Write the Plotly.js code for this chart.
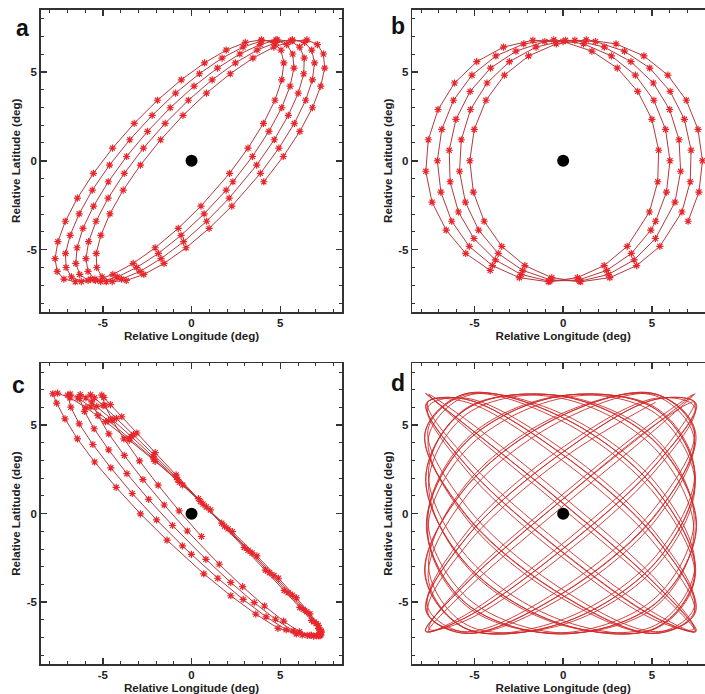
<!DOCTYPE html>
<html>
<head>
<meta charset="utf-8">
<script src="https://cdn.plot.ly/plotly-3.0.1.min.js"></script>
<style>
html,body{margin:0;padding:0;overflow:hidden;background:#fff;}
#chart{width:715px;height:694px;}
</style>
</head>
<body>
<div id="chart"></div>
<script>
// ---------- data (deg), read/ ----------
const panelLetters = ['a','b','c','d'];
const tickValues = [-5, 0, 5];
const tickLabels = ['-5', '0', '5'];
const centerLon = [0];
const centerLat = [0];

// panel a
const aLon = [4.07,5.17,6.10,6.81,7.28,7.50,7.43,7.09,6.50,5.67,4.64,3.46,2.18,0.84,-0.48,-1.74,-2.88,-3.85,-4.60,-5.11,-5.37,-5.34,-5.04,-4.47,-3.68,-2.69,-1.55,-0.31,0.99,2.27,
3.88,4.92,5.79,6.43,6.81,6.93,6.77,6.36,5.68,4.77,3.69,2.47,1.16,-0.18,-1.49,-2.71,-3.79,-4.70,-5.38,-5.80,-5.95,-5.83,-5.45,-4.81,-3.94,-2.90,-1.72,-0.45,0.85,2.12,
3.67,4.66,5.45,6.01,6.32,6.35,6.09,5.58,4.83,3.86,2.72,1.46,0.14,-1.20,-2.48,-3.66,-4.69,-5.52,-6.12,-6.45,-6.52,-6.30,-5.83,-5.12,-4.19,-3.09,-1.87,-0.59,0.71,1.95,
2.33,3.43,4.36,5.08,5.55,5.77,5.70,5.36,4.76,3.93,2.90,1.72,0.44,-0.90,-2.22,-3.48,-4.62,-5.59,-6.33,-6.84,-7.10,-7.07,-6.77,-6.21,-5.42,-4.43,-3.29,-2.05,-0.75,0.53,
2.14,3.18,4.05,4.70,5.08,5.20,5.04,4.62,3.94,3.03,1.95,0.73,-0.58,-1.92,-3.23,-4.45,-5.53,-6.43,-7.11,-7.53,-7.69,-7.57,-7.19,-6.55,-5.68];
const aLat = [-1.18,0.24,1.65,2.98,4.19,5.21,6.00,6.53,6.79,6.73,6.39,5.77,4.89,3.80,2.55,1.18,-0.24,-1.65,-2.98,-4.19,-5.21,-6.00,-6.53,-6.79,-6.73,-6.39,-5.77,-4.89,-3.80,-2.55,
-0.71,0.71,2.10,3.40,4.55,5.50,6.22,6.65,6.80,6.65,6.22,5.50,4.55,3.40,2.10,0.71,-0.71,-2.10,-3.40,-4.55,-5.50,-6.22,-6.65,-6.80,-6.65,-6.22,-5.50,-4.55,-3.40,-2.10,
-0.24,1.18,2.55,3.80,4.89,5.77,6.39,6.73,6.79,6.53,6.00,5.21,4.19,2.98,1.65,0.24,-1.18,-2.55,-3.80,-4.89,-5.77,-6.39,-6.73,-6.79,-6.53,-6.00,-5.21,-4.19,-2.98,-1.65,
-1.18,0.24,1.65,2.98,4.19,5.21,6.00,6.53,6.79,6.73,6.39,5.77,4.89,3.80,2.55,1.18,-0.24,-1.65,-2.98,-4.19,-5.21,-6.00,-6.53,-6.79,-6.73,-6.39,-5.77,-4.89,-3.80,-2.55,
-0.71,0.71,2.10,3.40,4.55,5.50,6.22,6.65,6.80,6.65,6.22,5.50,4.55,3.40,2.10,0.71,-0.71,-2.10,-3.40,-4.55,-5.50,-6.22,-6.65,-6.80,-6.65];

// panel b
const bLon = [7.04,7.65,7.85,7.60,6.94,5.90,4.55,2.98,1.30,-0.39,-1.95,-3.31,-4.35,-5.01,-5.26,-5.06,-4.45,-3.46,-2.16,-0.64,0.99,2.63,4.14,5.45,
6.69,7.16,7.21,6.83,6.03,4.88,3.45,1.82,0.13,-1.53,-3.03,-4.29,-5.22,-5.74,-5.84,-5.51,-4.76,-3.66,-2.28,-0.70,0.94,2.55,4.00,5.20,
6.30,6.62,6.53,6.00,5.08,3.82,2.32,0.66,-1.03,-2.66,-4.09,-5.24,-6.04,-6.42,-6.37,-5.90,-5.03,-3.82,-2.37,-0.76,0.88,2.46,3.84,4.94,
5.21,5.82,6.02,5.77,5.11,4.07,2.72,1.15,-0.53,-2.22,-3.79,-5.14,-6.18,-6.84,-7.09,-6.89,-6.28,-5.29,-3.99,-2.47,-0.84,0.80,2.31,3.61,
4.86,5.33,5.38,5.00,4.20,3.05,1.62,-0.01,-1.71,-3.36,-4.87,-6.12,-7.05,-7.60,-7.74,-7.39,-6.59,-5.49,-4.11];
const bLat = [-3.40,-1.76,0,1.76,3.40,4.81,5.89,6.57,6.80,6.57,5.89,4.81,3.40,1.76,0,-1.76,-3.40,-4.81,-5.89,-6.57,-6.80,-6.57,-5.89,-4.81,
-2.88,-1.18,0.59,2.33,3.90,5.21,6.16,6.70,6.77,6.39,5.57,4.37,2.88,1.18,-0.59,-2.33,-3.90,-5.21,-6.16,-6.70,-6.77,-6.39,-5.57,-4.37,
-2.33,-0.59,1.18,2.88,4.37,5.57,6.39,6.77,6.70,6.16,5.21,3.90,2.33,0.59,-1.18,-2.88,-4.37,-5.57,-6.39,-6.77,-6.70,-6.16,-5.21,-3.90,
-3.40,-1.76,0,1.76,3.40,4.81,5.89,6.57,6.80,6.57,5.89,4.81,3.40,1.76,0,-1.76,-3.40,-4.81,-5.89,-6.57,-6.80,-6.57,-5.89,-4.81,
-2.88,-1.18,0.59,2.33,3.90,5.21,6.16,6.70,6.77,6.39,5.57,4.37,2.88,1.18,-0.59,-2.33,-3.90,-5.21,-6.16];

// panel c
const cLon = [0.56,-0.70,-1.88,-2.93,-3.81,-4.47,-4.88,-5.06,-4.94,-4.57,-3.93,-3.08,-2.05,-0.87,0.39,1.70,2.97,4.16,5.22,6.10,6.76,7.16,7.30,7.16,6.75,6.08,5.19,4.11,2.88,1.56,
-0.24,-1.54,-2.74,-3.79,-4.66,-5.27,-5.62,-5.69,-5.47,-4.98,-4.23,-3.27,-2.12,-0.85,0.50,1.86,3.18,4.39,5.44,6.29,6.90,7.23,7.29,7.04,6.52,5.73,4.73,3.53,2.21,0.81,
-1.07,-2.42,-3.64,-4.67,-5.49,-6.03,-6.31,-6.27,-5.95,-5.34,-4.48,-3.39,-2.15,-0.78,0.65,2.06,3.41,4.64,5.68,6.49,7.03,7.29,7.23,6.88,6.24,5.33,4.20,2.91,1.48,-0.01,
-0.51,-1.97,-3.34,-4.55,-5.56,-6.33,-6.80,-6.98,-6.84,-6.40,-5.67,-4.68,-3.50,-2.14,-0.68,0.83,2.30,3.68,4.90,5.91,6.67,7.14,7.30,7.14,6.67,5.90,4.87,3.62,2.21,0.69,
-1.38,-2.88,-4.25,-5.46,-6.43,-7.13,-7.60,-7.82,-7.55,-6.85,-5.95,-4.84,-3.51,-2.05,-0.50,1.06];
const cLat = [-1.29,0.16,1.61,2.98,4.23,5.29,6.13,6.70,6.57,6.16,5.48,4.56,3.45,2.19,0.85,-0.54,-1.91,-3.19,-4.34,-5.30,-6.03,-6.50,-6.70,-6.90,-6.88,-6.68,-6.08,-5.22,-4.13,-2.86,
-0.98,0.49,1.93,3.29,4.51,5.54,6.32,6.72,6.55,6.11,5.39,4.47,3.33,2.06,0.69,-0.71,-2.07,-3.34,-4.47,-5.41,-6.12,-6.56,-6.85,-6.90,-6.88,-6.63,-5.97,-5.03,-3.89,-2.58,
-0.67,0.81,2.26,3.61,4.80,5.78,6.52,6.73,6.54,6.06,5.33,4.36,3.21,1.92,0.54,-0.86,-2.22,-3.50,-4.61,-5.54,-6.21,-6.63,-6.90,-6.92,-6.86,-6.56,-5.83,-4.85,-3.65,-2.30,
-1.82,-0.35,1.14,2.59,3.91,5.08,6.02,6.70,6.76,6.54,6.03,5.26,4.27,3.09,1.77,0.38,-1.02,-2.39,-3.65,-4.76,-5.66,-6.31,-6.70,-6.90,-6.88,-6.80,-6.48,-5.68,-4.64,-3.40,
-1.50,-0.01,1.49,2.92,4.23,5.36,6.25,6.78,6.81,6.55,6.00,5.20,4.16,2.96,1.62,0.21];

// panel d
const dLon = [
7.45,5.22,-0.15,-5.52,-7.75,-5.52,-0.15,5.22, 7.50,5.25,-0.12,-5.50,-7.70,-5.48,-0.10,5.28,
7.40,5.18,-0.18,-5.55,-7.80,-5.56,-0.16,5.20, 7.45,5.24,-0.14,-5.50,-7.68,-5.50,-0.14,5.22,
7.52,5.26,-0.10,-5.48,-7.74,-5.54,-0.18,5.18, 7.42,5.20,-0.16,-5.54,-7.78,-5.52,-0.12,5.24,
7.48,5.23,-0.13,-5.51,-7.72,-5.50,-0.15,5.21, 7.44,5.21,-0.17,-5.53,-7.76,-5.55,-0.14,5.23,
7.50,5.27,-0.11,-5.49,-7.70,-5.49,-0.11,5.26, 7.41,5.19,-0.16,-5.56,-7.79,-5.53,-0.17,5.19,
7.46,5.22,-0.14,-5.52,-7.74,-5.51,-0.13,5.22, 7.49,5.25,-0.12,-5.50,-7.71,-5.52,-0.15,5.24,
7.43,5.20,-0.17,-5.54,-7.77,-5.54,-0.16,5.20, 7.47,5.24,-0.13,-5.51,-7.73,-5.50,-0.12,5.23,
7.45,5.22,-0.15,-5.52,-7.75,-5.53,-0.14,5.21,
7.40,5.20,-0.10,-5.40,-7.60,-5.40,-0.10,5.20, 7.36,5.16,-0.06,-5.38,-7.56,-5.42,-0.12,5.18,
7.42,5.22,-0.12,-5.44,-7.64,-5.38,-0.08,5.22, 7.38,5.18,-0.08,-5.40,-7.58,-5.41,-0.11,5.19,
7.43,5.21,-0.11,-5.42,-7.62,-5.39,-0.09,5.21, 7.37,5.17,-0.09,-5.39,-7.59,-5.43,-0.13,5.17,
7.41,5.20,-0.10,-5.41,-7.61,-5.40,-0.10,5.20, 7.39,5.19,-0.12,-5.43,-7.63,-5.41,-0.09,5.21,
7.44,5.23,-0.09,-5.39,-7.57,-5.38,-0.11,5.19, 7.36,5.17,-0.11,-5.42,-7.62,-5.42,-0.10,5.18,
7.40,5.20,-0.10,-5.40,-7.60,-5.40,-0.10,5.20, 7.42,5.21,-0.08,-5.38,-7.58,-5.39,-0.12,5.22,
7.38,5.18,-0.12,-5.42,-7.63,-5.41,-0.09,5.19, 7.41,5.20,-0.10,-5.41,-7.60,-5.40,-0.11,5.20,
7.39,5.19,-0.11,-5.40,-7.61,-5.42,-0.10,5.21];
const dLat = [
6.80,5.05,0.71,-4.00,-6.65,-5.89,-2.10,2.77,6.22,6.47,3.40,-1.41,-5.50,-6.77,-4.55,0,4.55,6.77,5.50,1.41,
-3.40,-6.47,-6.22,-2.77,2.10,5.89,6.65,4.00,-0.71,-5.05,-6.80,-5.05,-0.71,4.00,6.65,5.89,2.10,-2.77,-6.22,-6.47,
-3.40,1.41,5.50,6.77,4.55,0,-4.55,-6.77,-5.50,-1.41,3.40,6.47,6.22,2.77,-2.10,-5.89,-6.65,-4.00,0.71,5.05,
6.80,5.05,0.71,-4.00,-6.65,-5.89,-2.10,2.77,6.22,6.47,3.40,-1.41,-5.50,-6.77,-4.55,0,4.55,6.77,5.50,1.41,
-3.40,-6.47,-6.22,-2.77,2.10,5.89,6.65,4.00,-0.71,-5.05,-6.80,-5.05,-0.71,4.00,6.65,5.89,2.10,-2.77,-6.22,-6.47,
-3.40,1.41,5.50,6.77,4.55,0,-4.55,-6.77,-5.50,-1.41,3.40,6.47,6.22,2.77,-2.10,-5.89,-6.65,-4.00,0.71,5.05,
6.30,3.06,-1.75,-5.66,-6.67,-4.25,0.35,4.77,6.74,5.25,1.06,-3.68,-6.52,-6.01,-2.42,2.42,6.01,6.52,3.68,-1.06,
-5.25,-6.74,-4.77,-0.35,4.25,6.67,5.66,1.75,-3.06,-6.30,-6.30,-3.06,1.75,5.66,6.67,4.25,-0.35,-4.77,-6.74,-5.25,
-1.06,3.68,6.52,6.01,2.42,-2.42,-6.01,-6.52,-3.68,1.06,5.25,6.74,4.77,0.35,-4.25,-6.67,-5.66,-1.75,3.06,6.30,
6.30,3.06,-1.75,-5.66,-6.67,-4.25,0.35,4.77,6.74,5.25,1.06,-3.68,-6.52,-6.01,-2.42,2.42,6.01,6.52,3.68,-1.06,
-5.25,-6.74,-4.77,-0.35,4.25,6.67,5.66,1.75,-3.06,-6.30,-6.30,-3.06,1.75,5.66,6.67,4.25,-0.35,-4.77,-6.74,-5.25,
-1.06,3.68,6.52,6.01,2.42,-2.42,-6.01,-6.52,-3.68,1.06,5.25,6.74,4.77,0.35,-4.25,-6.67,-5.66,-1.75,3.06,6.30];

// ---------- styling ----------
const FONT = 'Liberation Sans, Arial, Helvetica, sans-serif';
const AXC = '#333333';
const lineRed = '#b3393c';
const markRed = '#e8262b';
const dRed = '#d02a2a';

function orbit(x, y, xa, ya) {
  return {x: x, y: y, xaxis: xa, yaxis: ya, type: 'scatter', mode: 'lines+markers',
    line: {color: lineRed, width: 1},
    marker: {symbol: 'asterisk-open', size: 6, color: markRed, line: {color: markRed, width: 1.2}},
    hoverinfo: 'skip'};
}
function center(xa, ya) {
  return {x: centerLon, y: centerLat, xaxis: xa, yaxis: ya, type: 'scatter', mode: 'markers',
    marker: {size: 12, color: '#000000'}, hoverinfo: 'skip'};
}

const traces = [
  orbit(aLon, aLat, 'x', 'y'), center('x', 'y'),
  orbit(bLon, bLat, 'x2', 'y2'), center('x2', 'y2'),
  orbit(cLon, cLat, 'x3', 'y3'), center('x3', 'y3'),
  {x: dLon, y: dLat, xaxis: 'x4', yaxis: 'y4', type: 'scatter', mode: 'lines',
   line: {color: dRed, width: 0.9, shape: 'spline', smoothing: 1}, hoverinfo: 'skip'},
  center('x4', 'y4')
];

function axis(domain, anchor, title) {
  return {
    domain: domain, anchor: anchor, range: [-8.5, 8.5],
    tickmode: 'array', tickvals: tickValues, ticktext: tickLabels,
    ticks: 'inside', ticklen: 6, tickwidth: 1.5, tickcolor: AXC,
    minor: {tickmode: 'linear', tick0: 0, dtick: 1, ticks: 'inside', ticklen: 3, tickwidth: 1, tickcolor: AXC, showgrid: false},
    showline: true, linecolor: AXC, linewidth: 1.5, mirror: 'allticks',
    showgrid: false, zeroline: false, automargin: false, fixedrange: true,
    tickfont: {family: FONT, size: 11.5, color: '#222222', weight: 'bold'},
    title: {text: title, font: {family: FONT, size: 11.6, color: '#222222', weight: 'bold'}, standoff: 3}
  };
}

const XT = 'Relative Longitude (deg)';
const YT = 'Relative Latitude (deg)';
const leftDom = [0.001, 0.4487];
const rightDom = [0.5524, 1.0];
const topDom = [0.5381, 0.9992];
const botDom = [0.0015, 0.4599];

const letterFont = {family: FONT, size: 23, color: '#111111', weight: 'bold'};
const letterPos = [[-0.0267, 0.971], [0.5312, 0.9741], [-0.0326, 0.4268], [0.5312, 0.4299]];

const layout = {
  width: 715, height: 694,
  margin: {l: 40, r: 1, t: 9, b: 29, pad: 0},
  paper_bgcolor: '#ffffff', plot_bgcolor: '#ffffff',
  showlegend: false,
  xaxis: axis(leftDom, 'y', XT), yaxis: axis(topDom, 'x', YT),
  xaxis2: axis(rightDom, 'y2', XT), yaxis2: axis(topDom, 'x2', YT),
  xaxis3: axis(leftDom, 'y3', XT), yaxis3: axis(botDom, 'x3', YT),
  xaxis4: axis(rightDom, 'y4', XT), yaxis4: axis(botDom, 'x4', YT),
  annotations: panelLetters.map((t, i) => ({
    text: t, xref: 'paper', yref: 'paper', x: letterPos[i][0], y: letterPos[i][1],
    xanchor: 'center', yanchor: 'middle', showarrow: false, font: letterFont
  }))
};

Plotly.newPlot('chart', traces, layout, {staticPlot: true, displayModeBar: false});
</script>
</body>
</html>
